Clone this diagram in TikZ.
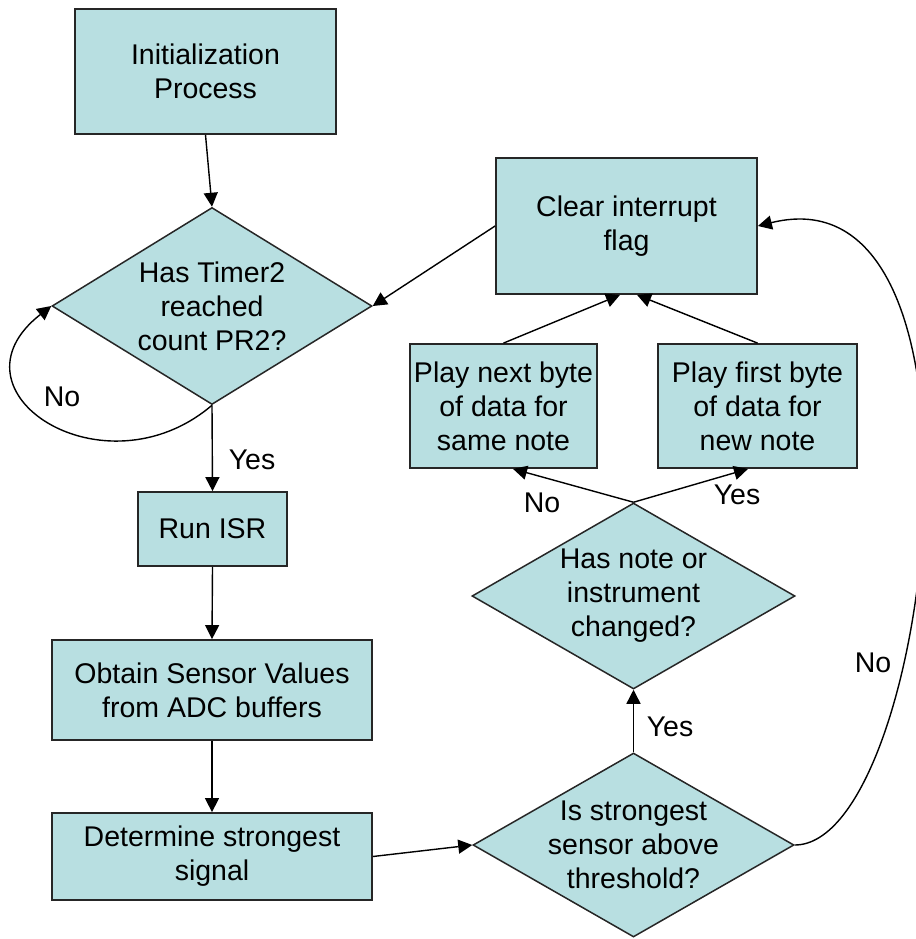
\documentclass[tikz,border=0pt]{standalone}
\usepackage{fontspec}
\setmainfont{Liberation Sans}
\usetikzlibrary{shapes.geometric,arrows.meta}
\definecolor{boxfill}{RGB}{184,223,225}
\definecolor{edgecol}{RGB}{38,38,38}
\begin{document}
\begin{tikzpicture}[x=1pt,y=1pt,
  every node/.style={font=\fontsize{28.5}{34}\selectfont, text=black},
  box/.style={draw=edgecol, line width=1.8pt, fill=boxfill, inner sep=0pt, align=center},
  dia/.style={diamond, draw=edgecol, line width=1.5pt, fill=boxfill, inner sep=0pt},
  txt/.style={align=center, inner sep=0pt},
  arr/.style={draw=black, line width=1.4pt, -{Triangle[length=14pt,width=14pt]}},
  lbl/.style={inner sep=0pt}
]
\useasboundingbox (0,0) rectangle (915,-939);

\node[box, minimum width=261pt, minimum height=125pt] (init) at (205.5,-71.5) {Initialization\\Process};
\node[dia, minimum width=320pt, minimum height=197pt] (d1) at (212,-306) {};
\node[txt] (d1t) at (d1) {Has Timer2\\reached\\count PR2?};
\node[box, minimum width=149pt, minimum height=74pt] (run) at (212.5,-529) {Run ISR};
\node[box, minimum width=320pt, minimum height=100pt] (obt) at (212,-690) {Obtain Sensor Values\\from ADC buffers};
\node[box, minimum width=320pt, minimum height=87pt] (det) at (212,-856.5) {Determine strongest\\signal};
\node[dia, minimum width=321pt, minimum height=184pt] (d2) at (633.5,-845) {};
\node[txt] (d2t) at (d2) {Is strongest\\sensor above\\threshold?};
\node[dia, minimum width=323pt, minimum height=186pt] (d3) at (633.5,-596) {};
\node[txt] (d3t) at (d3) {Has note or\\instrument\\changed?};
\node[box, minimum width=261pt, minimum height=136pt] (clr) at (626.5,-226) {Clear interrupt\\flag};
\node[box, minimum width=187pt, minimum height=124pt] (pn) at (503.5,-406) {Play next byte\\of data for\\same note};
\node[box, minimum width=199pt, minimum height=124pt] (pf) at (757.5,-406) {Play first byte\\of data for\\new note};

\draw[arr] (init.south) -- (d1.north);
\draw[arr] (d1.south) .. controls +(-108,-92) and +(-110,-86) .. (d1.west);
\draw[arr] (d1.south) -- (run.north);
\draw[arr] (run.south) -- (obt.north);
\draw[arr] (obt.south) -- (det.north);
\draw[arr] (det.east) -- (d2.west);
\draw[arr] (d2.north) -- (d3.south);
\draw[arr] (d3.north) -- ([xshift=9.5pt]pn.south);
\draw[arr] (d3.north) -- ([xshift=-9.5pt]pf.south);
\draw[arr] (pn.north) -- ([xshift=-6.5pt]clr.south);
\draw[arr] (pf.north) -- ([xshift=10.5pt]clr.south);
\draw[arr] (clr.west) -- (d1.east);
\draw[arr] (d2.east) .. controls +(136,0) and +(253,63) .. (clr.east);

\node[lbl] (lno1) at (62,-397) {No};
\node[lbl] (lyes1) at (252,-460) {Yes};
\node[lbl] (lyes2) at (670,-727) {Yes};
\node[lbl] (lno2) at (542,-503) {No};
\node[lbl] (lyes3) at (737,-495) {Yes};
\node[lbl] (lno3) at (873,-663) {No};
\end{tikzpicture}
\end{document}
